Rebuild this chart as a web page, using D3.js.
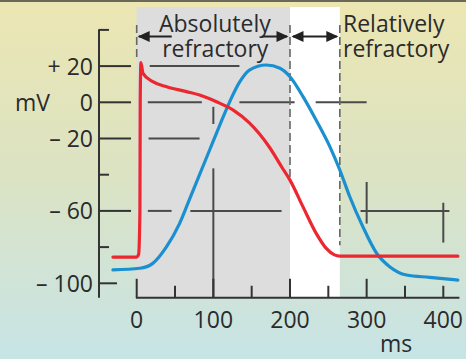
<!DOCTYPE html>
<html>
<head>
<meta charset="utf-8">
<script src="https://cdn.jsdelivr.net/npm/d3@7"></script>
<style>
  body { margin: 0; }
  svg { display: block; font-family: "Open Sans", sans-serif; }
  .lbl { fill: #2b2b2b; font-size: 23px; }
  .grid { stroke: #4a4a4a; stroke-width: 2; }
  .axis { stroke: #333; stroke-width: 2; fill: none; }
  .dash { stroke: #666; stroke-width: 1.6; stroke-dasharray: 8 4; }
</style>
</head>
<body>
<div id="chart"></div>
<script>
// action potential (red) vs. contraction / tension (blue), x in ms, y in mV
var apTime  = [-31, 0, 2.5, 4.2, 4.6, 5.5, 8.2, 21, 39, 65, 82, 104, 126, 147, 173, 190, 200, 217, 234, 247, 258, 265, 419]
var apVolt  = [-85.5, -85.5, -84, -60, 0, 22, 16, 11.4, 8.6, 5.9, 4, 0.3, -4.3, -11.4, -24.7, -36.3, -43, -57.8, -72.3, -80.6, -84.3, -85, -85]

var ctTime  = [-31, 4, 21, 39, 56, 69, 82, 95, 108, 121, 134, 147, 169, 187, 200, 217, 234, 252, 265, 278, 295, 313, 330, 352, 382, 419]
var ctVolt  = [-92.6, -91.7, -89, -79.8, -66.9, -53.5, -40, -26.5, -13, 0, 11, 17.8, 20.6, 18.8, 14.1, 3.1, -9.8, -24.5, -37.4, -52.2, -68.7, -83.4, -90.8, -95.4, -96.7, -98.2]

var absolutePeriod = [0, 200]
var relativePeriod = [200, 265]

var xTicks = [0, 100, 200, 300, 400]
var xMinorTicks = [50, 150, 250, 350, 400]
var yTicks = [20, 0, -20, -60, -100]
var yTickLabels = ["+ 20", "0", "\u2013 20", "\u2013 60", "\u2013 100"]
var yMinorTicks = [40, -40, -80]

// broken grid pieces: [mV, fromMs, toMs] and [ms, fromMv, toMv]
var gridH = [[20, 17, 134], [0, 14.5, 85], [0, 134, 206], [0, 233.5, 300], [-20, 15.5, 82],
             [-60, 14.5, 45.5], [-60, 70, 189], [-60, 292, 408]]
var gridV = [[100, -2.5, -12], [100, -36.5, -108], [300, -44, -67], [400, -55.5, -77.5]]

var W = 466, H = 359
var x = d3.scaleLinear().domain([0, 400]).range([136.7, 443.3])
var y = d3.scaleLinear().domain([-100, 0]).range([283.3, 102.3])
var axisX = 99, axisY = y(-108), topY = 7, arrowY = 36.5

var svg = d3.select('#chart').append('svg').attr('width', W).attr('height', H)

var defs = svg.append('defs')
var grad = defs.append('linearGradient').attr('id', 'bg').attr('x1', 0).attr('y1', 0).attr('x2', 0).attr('y2', 1)
grad.append('stop').attr('offset', '0%').attr('stop-color', '#ece6b2')
grad.append('stop').attr('offset', '50%').attr('stop-color', '#dbe3c4')
grad.append('stop').attr('offset', '100%').attr('stop-color', '#c7e4e6')

svg.append('rect').attr('width', W).attr('height', H).attr('fill', 'url(#bg)')
svg.append('line').attr('x1', 0).attr('x2', W).attr('y1', 1).attr('y2', 1).attr('stroke', '#6c6858').attr('stroke-width', 2)

// refractory periods
svg.append('rect')
  .attr('x', x(absolutePeriod[0])).attr('y', topY)
  .attr('width', x(absolutePeriod[1]) - x(absolutePeriod[0])).attr('height', axisY - topY)
  .attr('fill', '#dddddd')
svg.append('rect')
  .attr('x', x(relativePeriod[0])).attr('y', topY)
  .attr('width', x(relativePeriod[1]) - x(relativePeriod[0])).attr('height', axisY - topY)
  .attr('fill', '#ffffff')

// grid pieces
svg.selectAll('.gh').data(gridH).enter().append('line').attr('class', 'grid')
  .attr('x1', d => x(d[1])).attr('x2', d => x(d[2])).attr('y1', d => y(d[0])).attr('y2', d => y(d[0]))
svg.selectAll('.gv').data(gridV).enter().append('line').attr('class', 'grid')
  .attr('x1', d => x(d[0])).attr('x2', d => x(d[0])).attr('y1', d => y(d[1])).attr('y2', d => y(d[2]))

// dashed boundaries
svg.append('line').attr('class', 'dash').attr('x1', x(0)).attr('x2', x(0)).attr('y1', 25).attr('y2', 60)
svg.append('line').attr('class', 'dash').attr('x1', x(200)).attr('x2', x(200)).attr('y1', 25).attr('y2', y(-41.5))
svg.append('line').attr('class', 'dash').attr('x1', x(265)).attr('x2', x(265)).attr('y1', 25).attr('y2', y(-79))

// y axis
svg.append('line').attr('class', 'axis').attr('x1', axisX).attr('x2', axisX).attr('y1', y(40.3)).attr('y2', axisY)
svg.selectAll('.yt').data(yTicks).enter().append('line').attr('class', 'axis')
  .attr('x1', axisX).attr('x2', d => axisX + (d == -100 ? 18 : 32))
  .attr('y1', d => y(d)).attr('y2', d => y(d))
svg.selectAll('.ym').data(yMinorTicks).enter().append('line').attr('class', 'axis')
  .attr('x1', axisX).attr('x2', axisX + 10)
  .attr('y1', d => y(d)).attr('y2', d => y(d))
svg.selectAll('.yl').data(yTicks).enter().append('text').attr('class', 'lbl')
  .attr('x', 93).attr('y', d => y(d) + 8.5).attr('text-anchor', 'end')
  .text((d, i) => yTickLabels[i])
svg.append('text').attr('class', 'lbl').attr('x', 15).attr('y', y(0) + 8.5).text('mV')

// x axis
svg.append('line').attr('class', 'axis').attr('x1', x(-1)).attr('x2', x(421)).attr('y1', axisY).attr('y2', axisY)
svg.selectAll('.xt').data(xTicks.filter(d => d != 400)).enter().append('line').attr('class', 'axis')
  .attr('x1', d => x(d)).attr('x2', d => x(d)).attr('y1', axisY).attr('y2', axisY - 19)
svg.selectAll('.xm').data(xMinorTicks).enter().append('line').attr('class', 'axis')
  .attr('x1', d => x(d)).attr('x2', d => x(d)).attr('y1', axisY).attr('y2', axisY - 12)
svg.selectAll('.xl').data(xTicks).enter().append('text').attr('class', 'lbl')
  .attr('x', d => x(d)).attr('y', 327.5).attr('text-anchor', 'middle').text(d => d)
svg.append('text').attr('class', 'lbl').attr('x', 380).attr('y', 351.5).text('ms')

// curves
var line = d3.line().x(d => x(d[0])).y(d => y(d[1])).curve(d3.curveMonotoneX)
svg.append('path').attr('d', line(ctTime.map((t, i) => [t, ctVolt[i]])))
  .attr('fill', 'none').attr('stroke', '#1a90d0').attr('stroke-width', 3.2).attr('stroke-linecap', 'round')
svg.append('path').attr('d', line(apTime.map((t, i) => [t, apVolt[i]])))
  .attr('fill', 'none').attr('stroke', '#ec2730').attr('stroke-width', 3.2).attr('stroke-linecap', 'round')

// arrows
function head(px, dir) {
  svg.append('path')
    .attr('d', 'M' + px + ',' + arrowY + 'l' + (-dir * 12) + ',-5.5l0,11z')
    .attr('fill', '#222')
}
function shaft(a, b) {
  svg.append('line').attr('x1', a).attr('x2', b).attr('y1', arrowY).attr('y2', arrowY)
    .attr('stroke', '#222').attr('stroke-width', 2)
}
shaft(x(0) + 2, x(45.7)); head(x(0) + 1, -1)
shaft(x(163), x(200) - 3); head(x(200) - 1.5, 1)
shaft(x(200) + 3, x(265) - 3); head(x(200) + 1.5, -1); head(x(265) - 1.5, 1)

// two-line labels as one wrapped text each
var absT = svg.append('text').attr('class', 'lbl').attr('text-anchor', 'middle')
absT.append('tspan').attr('x', x(102)).attr('y', 31.7).text('Absolutely')
absT.append('tspan').attr('x', x(102.5)).attr('y', 56.7).text('refractory')
var relT = svg.append('text').attr('class', 'lbl')
relT.append('tspan').attr('x', 343).attr('y', 31.7).text('Relatively')
relT.append('tspan').attr('x', 343).attr('y', 56.7).text('refractory')
</script>
</body>
</html>
